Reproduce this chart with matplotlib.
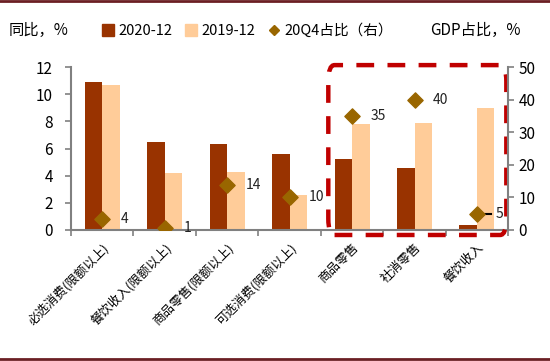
import numpy as np
import matplotlib
matplotlib.use("Agg")
import matplotlib.pyplot as plt
from matplotlib.patches import FancyBboxPatch
from matplotlib.lines import Line2D
from matplotlib.patches import Patch

plt.rcParams['font.family'] = ['Noto Sans CJK SC', 'DejaVu Sans']

categories = ['必选消费(限额以上)', '餐饮收入(限额以上)', '商品零售(限额以上)',
              '可选消费(限额以上)', '商品零售', '社消零售', '餐饮收入']
yoy_2020 = [10.9, 6.5, 6.3, 5.6, 5.2, 4.6, 0.4]
yoy_2019 = [10.7, 4.2, 4.3, 2.6, 7.8, 7.9, 9.0]
gdp_share = [3.3, 0.7, 13.9, 10.2, 35.0, 39.8, 4.8]
share_labels = ['4', '1', '14', '10', '35', '40', '5']

c2020 = '#993300'
c2019 = '#FFCC99'
cdia = '#996600'
axis_grey = '#808080'

fig = plt.figure(figsize=(5.5, 3.61), dpi=100)
ax = fig.add_axes([0.129, 0.363, 0.795, 0.451])
ax2 = ax.twinx()

x = np.arange(len(categories))
w = 0.28
ax.bar(x - w / 2, yoy_2020, w, color=c2020, zorder=2)
ax.bar(x + w / 2, yoy_2019, w, color=c2019, zorder=2)
ax.set_xlim(-0.5, len(categories) - 0.5)
ax.set_ylim(0, 12)
ax.set_yticks(range(0, 13, 2))

ax2.scatter(x, gdp_share, marker='D', s=60, color=cdia, zorder=3)
ax2.set_ylim(0, 50)
ax2.set_yticks(range(0, 51, 10))
for xi, v, lab in zip(x, gdp_share, share_labels):
    ax2.text(xi + 0.3, v, lab, fontsize=10, va='center', ha='left', color='#222222')
# leader line next to the last label
ax2.plot([6.05, 6.22], [gdp_share[-1], gdp_share[-1]], color='black', lw=1.5)

ax.set_xticks(np.arange(-0.5, len(categories), 1.0))
ax.set_xticklabels([])
ax.set_xticks(x, minor=True)
ax.set_xticklabels(categories, minor=True, rotation=45, ha='right',
                   rotation_mode='anchor', fontsize=9)
ax.tick_params(axis='x', which='minor', length=0, pad=8)
ax.tick_params(axis='x', which='major', length=4, color=axis_grey, direction='out')

for a in (ax, ax2):
    a.spines['top'].set_visible(False)
    for s in ('left', 'right', 'bottom'):
        a.spines[s].set_color(axis_grey)
        a.spines[s].set_linewidth(1.5)
    a.tick_params(axis='y', length=4, color=axis_grey, labelsize=11, width=1.2)
ax.tick_params(axis='y', pad=9)
ax.tick_params(axis='x', width=1.2)
ax.spines['right'].set_visible(False)
ax2.spines['left'].set_visible(False)
ax2.spines['bottom'].set_visible(False)

# dashed highlight box around the last three groups
box = FancyBboxPatch((3.62, -0.37), 2.85, 12.52,
                     boxstyle='round,pad=0,rounding_size=0.1',
                     fill=False, edgecolor='#C00000', lw=3.2,
                     linestyle=(0, (4, 3)), transform=ax.transData,
                     clip_on=False, zorder=5, mutation_aspect=12)
ax.add_patch(box)

fig.text(0.015, 0.915, '同比，%', fontsize=11, va='center')
fig.text(0.947, 0.915, 'GDP占比，%', fontsize=11, va='center', ha='right')

handles = [Patch(color=c2020), Patch(color=c2019),
           Line2D([], [], marker='D', color=cdia, ls='none', markersize=5)]
fig.legend(handles, ['2020-12', '2019-12', '20Q4占比（右）'],
           loc='center', bbox_to_anchor=(0.45, 0.915), ncol=3, frameon=False,
           fontsize=10.5, handlelength=0.8, handleheight=0.8, handletextpad=0.3,
           columnspacing=0.9)

# frame lines at top and bottom
for yy in (0.996, 0.006):
    fig.add_artist(Line2D([0, 1], [yy, yy], transform=fig.transFigure,
                          color='#6B1F24', lw=2))

fig.savefig('out.png', dpi=100)
